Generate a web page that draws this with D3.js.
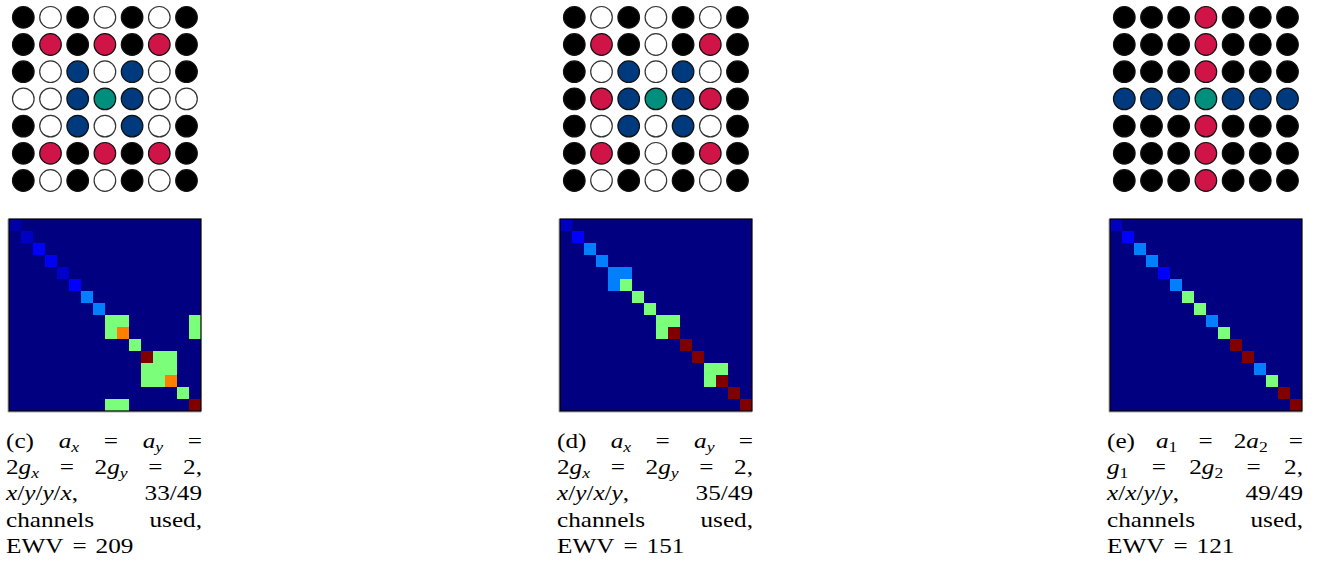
<!DOCTYPE html>
<html>
<head>
<meta charset="utf-8">
<script src="https://cdn.jsdelivr.net/npm/d3@7"></script>
<style>
  html, body { margin: 0; padding: 0; background: #fff; }
  svg { display: block; }
  .cap { font-family: "Liberation Serif", "DejaVu Serif", serif; font-size: 21px; fill: #000; }
</style>
</head>
<body>
<svg id="fig" width="1320" height="567"></svg>
<script>
// ---- channel layouts (7x7), one string per row ----
// B = idle (black), W = unused (white), R = red, N = navy, T = teal (centre)
const gridC = ["BWBWBWB", "BRBRBRB", "BWNWNWB", "WWNTNWW", "BWNWNWB", "BRBRBRB", "BWBWBWB"];
const gridD = ["BWBWBWB", "BRBWBRB", "BWNWNWB", "BRNTNRB", "BWNWNWB", "BRBWBRB", "BWBWBWB"];
const gridE = ["BBBRBBB", "BBBRBBB", "BBBRBBB", "NNNTNNN", "BBBRBBB", "BBBRBBB", "BBBRBBB"];

// ---- 16x16 matrices: diagonal values and symmetric off-diagonal entries [row, col, value] ----
const diagC = [0.035, 0.06, 0.11, 0.10, 0.065, 0.12, 0.25, 0.25, 0.5, 0.775, 0.5, 1.0, 0.5, 0.775, 0.5, 1.0];
const offC = [[8, 9, 0.5], [8, 15, 0.5], [9, 15, 0.5], [11, 12, 0.5], [11, 13, 0.5], [12, 13, 0.5]];

const diagD = [0.055, 0.11, 0.25, 0.25, 0.25, 0.5, 0.5, 0.5, 0.5, 1.0, 1.0, 1.0, 0.5, 1.0, 1.0, 1.0];
const offD = [[4, 5, 0.25], [8, 9, 0.5], [12, 13, 0.5]];

const diagE = [0.055, 0.11, 0.25, 0.25, 0.11, 0.25, 0.5, 0.5, 0.25, 0.5, 1.0, 1.0, 0.25, 0.5, 1.0, 1.0];
const offE = [];

// ---- captions: each line is a list of tokens; "$" marks math tokens ----
const captionC = [
  ["(c)", "$a_x", "$=", "$a_y", "$="],
  ["$2g_x", "$=", "$2g_y", "$=", "$2,"],
  ["$x/y/y/x,", "$33/49"],
  ["channels", "used,"],
  ["EWV", "$=", "$209"]
];
const captionD = [
  ["(d)", "$a_x", "$=", "$a_y", "$="],
  ["$2g_x", "$=", "$2g_y", "$=", "$2,"],
  ["$x/y/x/y,", "$35/49"],
  ["channels", "used,"],
  ["EWV", "$=", "$151"]
];
const captionE = [
  ["(e)", "$a_1", "$=", "$2a_2", "$="],
  ["$g_1", "$=", "$2g_2", "$=", "$2,"],
  ["$x/x/y/y,", "$49/49"],
  ["channels", "used,"],
  ["EWV", "$=", "$121"]
];

const panelLeft = [9, 560, 1110];

// ---- colours ----
const dotFill = { B: "#000000", W: "#ffffff", R: "#d11447", N: "#003a7e", T: "#008f7c" };

// jet colormap built from per-channel linear segments
const jr = d3.scaleLinear().domain([0, 0.35, 0.66, 0.89, 1]).range([0, 0, 1, 1, 0.5]).clamp(true);
const jg = d3.scaleLinear().domain([0, 0.125, 0.375, 0.64, 0.91, 1]).range([0, 0, 1, 1, 0, 0]).clamp(true);
const jb = d3.scaleLinear().domain([0, 0.11, 0.34, 0.65, 1]).range([0.5, 1, 1, 0, 0]).clamp(true);
const jet = v => d3.rgb(jr(v) * 255, jg(v) * 255, jb(v) * 255).formatHex();

const svg = d3.select("#fig");

const panels = [
  { x0: panelLeft[0], grid: gridC, diag: diagC, off: offC, caption: captionC },
  { x0: panelLeft[1], grid: gridD, diag: diagD, off: offD, caption: captionD },
  { x0: panelLeft[2], grid: gridE, diag: diagE, off: offE, caption: captionE }
];

const fontSize = 21;
const stretch = 1.2;   // wide, roomy glyph set for the captions

panels.forEach(p => {
  const g = svg.append("g");

  // ---- dot grid ----
  const idx = d3.range(7);
  const cx = d3.scalePoint().domain(idx).range([p.x0 + 14.3, p.x0 + 14.3 + 6 * 27.2]);
  const cy = d3.scalePoint().domain(idx).range([17.3, 17.3 + 6 * 27.2]);
  const dots = [];
  p.grid.forEach((row, r) => row.split("").forEach((k, c) => dots.push({ r, c, k })));
  g.selectAll("circle.dot").data(dots).join("circle")
    .attr("class", "dot")
    .attr("cx", d => cx(d.c))
    .attr("cy", d => cy(d.r))
    .attr("r", 10.8)
    .attr("fill", d => dotFill[d.k])
    .attr("stroke", d => d.k === "W" ? "#333" : "#111")
    .attr("stroke-width", 1.2);

  // ---- matrix ----
  const n = 16;
  const mat = d3.range(n).map(() => d3.range(n).map(() => 0));
  p.diag.forEach((v, i) => { mat[i][i] = v; });
  p.off.forEach(([i, j, v]) => { mat[i][j] = v; mat[j][i] = v; });
  const cells = [];
  mat.forEach((row, i) => row.forEach((v, j) => cells.push({ i, j, v })));

  const top = 219, size = 192;
  const bx = d3.scaleBand().domain(d3.range(n)).range([p.x0, p.x0 + size]);
  const by = d3.scaleBand().domain(d3.range(n)).range([top, top + size]);

  // soft shadow line on left and bottom
  g.append("path")
    .attr("d", `M${p.x0 - 1},${top} V${top + size + 1} H${p.x0 + size}`)
    .attr("fill", "none").attr("stroke", "#aaa").attr("stroke-width", 1);

  g.selectAll("rect.cell").data(cells).join("rect")
    .attr("class", "cell")
    .attr("x", d => bx(d.j))
    .attr("y", d => by(d.i))
    .attr("width", bx.bandwidth() + 0.3)
    .attr("height", by.bandwidth() + 0.3)
    .attr("fill", d => jet(d.v))
    .attr("shape-rendering", "crispEdges");

  g.append("rect")
    .attr("x", p.x0).attr("y", top)
    .attr("width", size).attr("height", size)
    .attr("fill", "none").attr("stroke", "#000").attr("stroke-width", 1.2);

  // ---- caption, justified to the matrix width ----
  const left = p.x0 - 3, right = p.x0 + 193;
  p.caption.forEach((tokens, li) => {
    const baseline = 448 + li * 26.2;
    const last = li === p.caption.length - 1;
    const nodes = tokens.map(tok => {
      const t = g.append("text").attr("class", "cap").attr("y", baseline);
      writeToken(t, tok);
      return t;
    });
    const widths = nodes.map(t => t.node().getComputedTextLength() * stretch);
    nodes.forEach((t, k) => t.attr("textLength", widths[k]).attr("lengthAdjust", "spacingAndGlyphs"));
    const total = d3.sum(widths);
    const gap = last || tokens.length < 2 ? 9 : (right - left - total) / (tokens.length - 1);
    let x = left;
    nodes.forEach((t, k) => {
      t.attr("x", x);
      x += widths[k] + gap;
    });
  });
});

// Render one caption token into a <text>: math tokens get italic letters and "_" subscripts
function writeToken(t, tok) {
  if (!tok.startsWith("$")) {
    t.text(tok);
    return;
  }
  const s = tok.slice(1);
  let lowered = false;
  for (let k = 0; k < s.length; k++) {
    const isSub = s[k] === "_";
    const ch = isSub ? s[++k] : s[k];
    const span = t.append("tspan")
      .attr("font-style", /[a-z]/i.test(ch) ? "italic" : "normal")
      .text(ch);
    if (isSub) {
      span.attr("dy", 4).attr("font-size", fontSize * 0.7);
      lowered = true;
    } else if (lowered) {
      span.attr("dy", -4);
      lowered = false;
    }
  }
}
</script>
</body>
</html>
